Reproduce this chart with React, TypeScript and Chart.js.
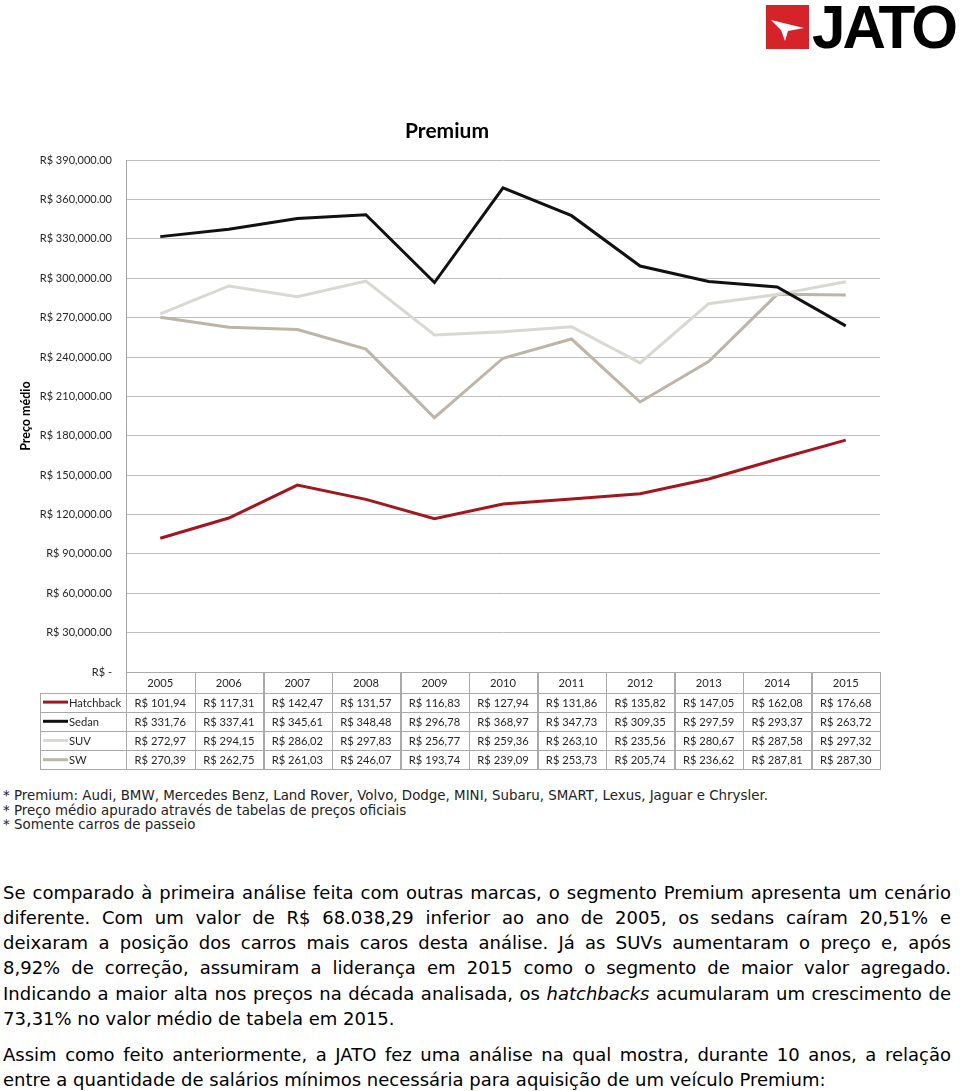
import React, { useEffect, useRef } from "react";
import { Chart, registerables } from "chart.js";

Chart.register(...registerables);

const years = ["2005", "2006", "2007", "2008", "2009", "2010", "2011", "2012", "2013", "2014", "2015"];
// values in thousands of R$
const hatchback = [101.94, 117.31, 142.47, 131.57, 116.83, 127.94, 131.86, 135.82, 147.05, 162.08, 176.68];
const sedan = [331.76, 337.41, 345.61, 348.48, 296.78, 368.97, 347.73, 309.35, 297.59, 293.37, 263.72];
const suv = [272.97, 294.15, 286.02, 297.83, 256.77, 259.36, 263.1, 235.56, 280.67, 287.58, 297.32];
const sw = [270.39, 262.75, 261.03, 246.07, 193.74, 239.09, 253.73, 205.74, 236.62, 287.81, 287.3];
const seriesNames = ["Hatchback", "Sedan", "SUV", "SW"];
const seriesColors = ["#A3161E", "#111111", "#D9D8D1", "#BEB5A6"];
const yMax = 390;
const yStep = 30;

const CHART_FONT = "Lato, 'Open Sans', sans-serif";

const fmtCell = (v: number) => "R$ " + v.toFixed(2).replace(".", ",");
const fmtTick = (v: number) =>
  v === 0
    ? "R$ -"
    : "R$ " +
      (v * 1000).toLocaleString("en-US", { minimumFractionDigits: 2, maximumFractionDigits: 2 });

const tablePlugin = {
  id: "dataTable",
  afterDraw(chart: any) {
    const { ctx, chartArea } = chart;
    const left = chartArea.left;
    const right = chartArea.right;
    const top = chartArea.bottom;
    const n = years.length;
    const colW = (right - left) / n;
    const headH = 20.5;
    const rowH = 19.2;
    const legendLeft = 40;
    const data = [hatchback, sedan, suv, sw];
    const px = (v: number) => Math.round(v) + 0.5;
    ctx.save();
    ctx.strokeStyle = "#A9A9A9";
    ctx.lineWidth = 1;
    ctx.font = "11.2px " + CHART_FONT;
    ctx.textBaseline = "middle";
    // header
    for (let i = 0; i < n; i++) {
      const x0 = left + i * colW;
      ctx.strokeRect(px(x0), px(top), Math.round(colW), Math.round(headH));
      ctx.fillStyle = "#262626";
      ctx.textAlign = "center";
      ctx.fillText(years[i], x0 + colW / 2, top + headH / 2 + 1);
    }
    // rows
    for (let r = 0; r < data.length; r++) {
      const y0 = top + headH + r * rowH;
      ctx.strokeRect(px(legendLeft), px(y0), Math.round(left - legendLeft), Math.round(rowH));
      ctx.beginPath();
      ctx.strokeStyle = seriesColors[r];
      ctx.lineWidth = 3;
      ctx.moveTo(legendLeft + 3, y0 + rowH / 2);
      ctx.lineTo(legendLeft + 28, y0 + rowH / 2);
      ctx.stroke();
      ctx.strokeStyle = "#A9A9A9";
      ctx.lineWidth = 1;
      ctx.fillStyle = "#262626";
      ctx.textAlign = "left";
      ctx.fillText(seriesNames[r], legendLeft + 29, y0 + rowH / 2 + 1);
      for (let i = 0; i < n; i++) {
        const x0 = left + i * colW;
        ctx.strokeRect(px(x0), px(y0), Math.round(colW), Math.round(rowH));
        ctx.textAlign = "center";
        ctx.fillText(fmtCell(data[r][i]), chart.scales.x.getPixelForValue(i), y0 + rowH / 2 + 1);
      }
    }
    ctx.restore();
  },
};

function PremiumChart() {
  const ref = useRef<HTMLCanvasElement>(null);
  useEffect(() => {
    if (!ref.current) return;
    const chart = new Chart(ref.current, {
      type: "line",
      data: {
        labels: years,
        datasets: [hatchback, sedan, suv, sw].map((d, i) => ({
          label: seriesNames[i],
          data: d,
          borderColor: seriesColors[i],
          backgroundColor: seriesColors[i],
          borderWidth: 3,
          pointRadius: 0,
          tension: 0,
          fill: false,
        })),
      },
      options: {
        animation: false,
        responsive: false,
        maintainAspectRatio: false,
        layout: { padding: { left: 14, right: 6, top: 0, bottom: 108 } },
        plugins: {
          legend: { display: false },
          tooltip: { enabled: false },
          title: {
            display: true,
            text: "Premium",
            color: "#000",
            font: { family: CHART_FONT, size: 21, weight: "bold" },
            padding: { top: 19, bottom: 16 },
          },
        },
        scales: {
          x: {
            display: false,
            offset: true,
            grid: { display: false },
          },
          y: {
            min: 0,
            max: yMax,
            afterFit(scale: any) {
              scale.width = 112;
            },
            ticks: {
              stepSize: yStep,
              padding: 14,
              color: "#262626",
              font: { family: CHART_FONT, size: 11 },
              callback: (v: any) => fmtTick(Number(v)),
            },
            grid: { color: "#BFBFBF", drawTicks: false, lineWidth: 1 },
            border: { display: true, color: "#A6A6A6" },
            title: {
              display: true,
              text: "Preço médio",
              color: "#000",
              font: { family: CHART_FONT, size: 12.5, weight: "bold" },
              padding: { top: 4, bottom: 0 },
            },
          },
        },
      },
      plugins: [tablePlugin],
    });
    return () => chart.destroy();
  }, []);
  return (
    <canvas
      ref={ref}
      width={886}
      height={680}
      style={{ position: "absolute", left: 0, top: 100, width: 886, height: 680 }}
    />
  );
}

const para1 = [
  "Se comparado à primeira análise feita com outras marcas, o segmento Premium apresenta um cenário",
  "diferente. Com um valor de R$ 68.038,29 inferior ao ano de 2005, os sedans caíram 20,51% e",
  "deixaram a posição dos carros mais caros desta análise. Já as SUVs aumentaram o preço e, após",
  "8,92% de correção, assumiram a liderança em 2015 como o segmento de maior valor agregado.",
  "Indicando a maior alta nos preços na década analisada, os hatchbacks acumularam um crescimento de",
  "73,31% no valor médio de tabela em 2015.",
];
const para2 = [
  "Assim como feito anteriormente, a JATO fez uma análise na qual mostra, durante 10 anos, a relação",
  "entre a quantidade de salários mínimos necessária para aquisição de um veículo Premium:",
];
const footnotes = [
  "* Premium: Audi, BMW, Mercedes Benz, Land Rover, Volvo, Dodge, MINI, Subaru, SMART, Lexus, Jaguar e Chrysler.",
  "* Preço médio apurado através de tabelas de preços oficiais",
  "* Somente carros de passeio",
];

function Line({ text, last }: { text: string; last: boolean }) {
  const parts = text.split("hatchbacks");
  const content =
    parts.length > 1 ? (
      <>
        {parts[0]}
        <i>hatchbacks</i>
        {parts[1]}
      </>
    ) : (
      text
    );
  return (
    <div
      style={{
        whiteSpace: "nowrap",
        textAlign: "justify",
        textAlignLast: last ? "left" : "justify",
        height: 25.3,
        lineHeight: "25.3px",
      }}
    >
      {content}
    </div>
  );
}

export default function App() {
  const paraStyle: React.CSSProperties = {
    position: "absolute",
    left: 3,
    width: 948,
    fontFamily: "'DejaVu Sans', sans-serif",
    fontSize: 18,
    color: "#000",
  };
  return (
    <div style={{ position: "absolute", left: 0, top: 0, width: 960, height: 1091, background: "#fff", overflow: "hidden" }}>
      {/* logo */}
      <div style={{ position: "absolute", left: 766, top: 5, width: 43, height: 44 }}>
        <svg width={43} height={44} viewBox="0 0 43 44">
          <rect x={0} y={0} width={43} height={44} fill="#D6232A" />
          <polygon points="5,15 38,23 22,26 19,36 15,25" fill="#fff" />
        </svg>
      </div>
      <div
        style={{
          position: "absolute",
          left: 812,
          top: -6,
          fontFamily: "'Liberation Sans', Arial, sans-serif",
          fontWeight: 900,
          fontSize: 62,
          lineHeight: "66px",
          letterSpacing: -3,
          color: "#000",
          transformOrigin: "left top",
          transform: "scaleX(0.97)",
        }}
      >
        JATO
      </div>
      <PremiumChart />
      <div
        style={{
          position: "absolute",
          left: 3,
          top: 789,
          fontFamily: "'DejaVu Sans', Verdana, sans-serif",
          fontSize: 13.4,
          lineHeight: "14.6px",
          color: "#222",
          whiteSpace: "nowrap",
        }}
      >
        {footnotes.map((f, i) => (
          <div key={i}>{f}</div>
        ))}
      </div>
      <div style={{ ...paraStyle, top: 879.5 }}>
        {para1.map((l, i) => (
          <Line key={i} text={l} last={i === para1.length - 1} />
        ))}
      </div>
      <div style={{ ...paraStyle, top: 1041.5 }}>
        {para2.map((l, i) => (
          <Line key={i} text={l} last={i === para2.length - 1} />
        ))}
      </div>
    </div>
  );
}
